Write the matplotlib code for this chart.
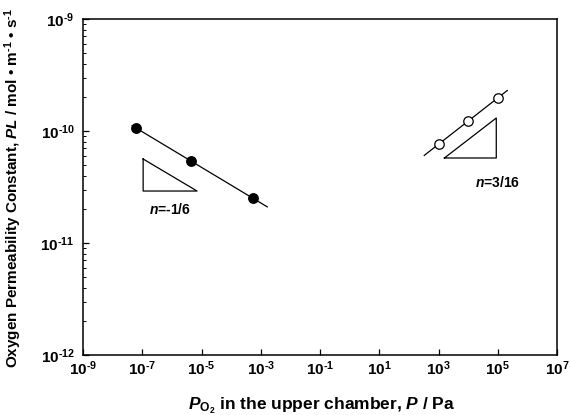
import numpy as np
import matplotlib
matplotlib.use("Agg")
import matplotlib.pyplot as plt
from matplotlib.ticker import LogLocator, FixedLocator, NullLocator, NullFormatter

plt.rcParams['font.family'] = ['Liberation Sans', 'DejaVu Sans']
plt.rcParams['font.weight'] = 'bold'
plt.rcParams['axes.labelweight'] = 'bold'
plt.rcParams['mathtext.fontset'] = 'custom'
plt.rcParams['mathtext.rm'] = 'Liberation Sans:bold'
plt.rcParams['mathtext.bf'] = 'Liberation Sans:bold'
plt.rcParams['mathtext.it'] = 'Liberation Sans:italic:bold'
plt.rcParams['mathtext.default'] = 'rm'

# Data
p_low = [6.2e-8, 4.5e-6, 5.5e-4]
pl_low = [1.06e-10, 5.4e-11, 2.5e-11]
p_high = [1e3, 1e4, 1e5]
pl_high = [7.6e-11, 1.23e-10, 1.97e-10]
fit_low_range = [10**-7.34, 10**-2.78]
fit_high_range = [10**2.52, 10**5.32]
tri_low_x = [10**-6.97, 10**-6.97, 10**-5.15, 10**-6.97]
tri_low_y = [10**-10.25, 10**-10.536, 10**-10.536, 10**-10.25]
tri_high_x = [10**3.2, 10**4.95, 10**4.95, 10**3.2]
tri_high_y = [10**-10.241, 10**-10.241, 10**-9.884, 10**-10.241]
x_ticks = [1e-9, 1e-7, 1e-5, 1e-3, 1e-1, 1e1, 1e3, 1e5, 1e7]
x_ticklabels = [r'$10^{\text{-}9}$', r'$10^{\text{-}7}$', r'$10^{\text{-}5}$', r'$10^{\text{-}3}$',
                r'$10^{\text{-}1}$', '$10^{1}$', '$10^{3}$', '$10^{5}$', '$10^{7}$']
y_ticks = [1e-12, 1e-11, 1e-10, 1e-9]
y_ticklabels = [r'$10^{\text{-}12}$', r'$10^{\text{-}11}$', r'$10^{\text{-}10}$', r'$10^{\text{-}9}$']

fig = plt.figure(figsize=(5.7, 4.15), dpi=100)
ax = fig.add_axes([83/570, 1 - 355/415, (557-83)/570, (355-19)/415])
ax.set_xscale('log')
ax.set_yscale('log')
ax.set_xlim(1e-9, 1e7)
ax.set_ylim(1e-12, 1e-9)

def fit_line(x, y, rng):
    c = np.polyfit(np.log10(x), np.log10(y), 1)
    xs = np.array(rng)
    return xs, 10**np.polyval(c, np.log10(xs))

xs, ys = fit_line(p_low, pl_low, fit_low_range)
ax.plot(xs, ys, color='black', lw=0.9, zorder=2)
xs, ys = fit_line(p_high, pl_high, fit_high_range)
ax.plot(xs, ys, color='black', lw=0.9, zorder=2)

ax.plot(p_low, pl_low, 'o', color='black', ms=6.8, zorder=3)
ax.plot(p_high, pl_high, 'o', mfc='white', mec='black', mew=0.9, ms=6.8, zorder=3)

ax.plot(tri_low_x, tri_low_y, color='black', lw=0.9)
ax.plot(tri_high_x, tri_high_y, color='black', lw=0.9)

ax.text(10**-6.05, 10**-10.705, r'$\mathit{n}$=-1/6', ha='center', va='center', fontsize=10)
ax.text(10**5.0, 10**-10.46, r'$\mathit{n}$=3/16', ha='center', va='center', fontsize=10)

ax.xaxis.set_major_locator(FixedLocator(x_ticks))
ax.set_xticklabels(x_ticklabels)
ax.xaxis.set_minor_locator(NullLocator())
ax.yaxis.set_major_locator(FixedLocator(y_ticks))
ax.set_yticklabels(y_ticklabels)
ax.yaxis.set_minor_locator(LogLocator(base=10, subs=np.arange(2, 10)))
ax.yaxis.set_minor_formatter(NullFormatter())

ax.tick_params(axis='both', which='major', direction='in', length=4, width=0.9,
               labelsize=11, top=False, right=False)
ax.tick_params(axis='y', which='minor', direction='in', length=2.5, width=0.7, right=False)
ax.tick_params(axis='x', pad=3)
ax.tick_params(axis='y', pad=6)
for s in ax.spines.values():
    s.set_linewidth(1.1)

ax.set_xlabel(r'$\mathit{P}_{\mathrm{O_2}}$ in the upper chamber, $\mathit{P}$ / Pa', fontsize=12.5)
ax.xaxis.set_label_coords(0.504, -0.12)
ax.set_ylabel(r'Oxygen Permeability Constant, $\mathit{PL}$ / mol • m$^{\text{-}1}$ • s$^{\text{-}1}$', fontsize=11)
ax.yaxis.set_label_coords(-0.125, 0.497)

fig.savefig('out.png', dpi=100)
